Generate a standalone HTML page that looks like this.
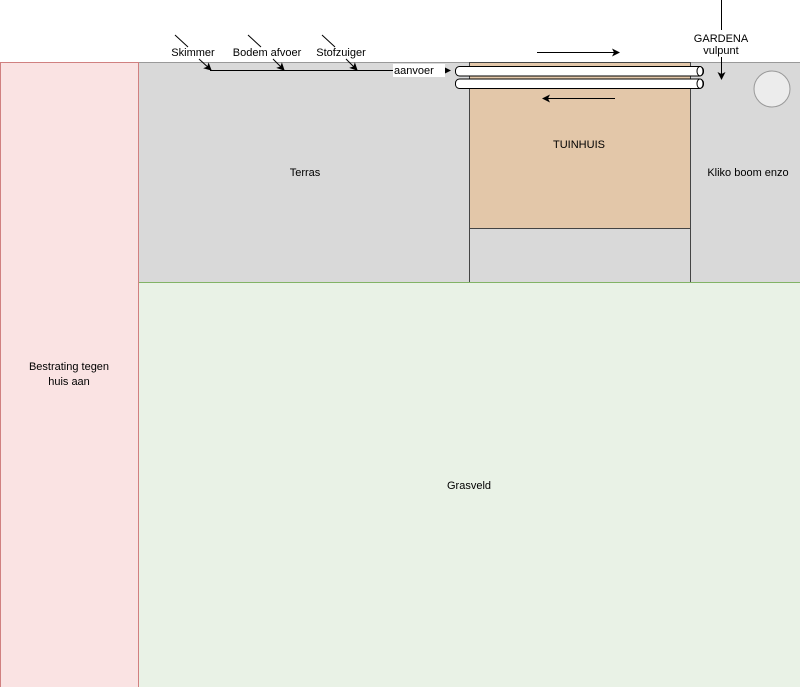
<!DOCTYPE html>
<html><head><style>html,body{margin:0;padding:0;background:#fff;}svg{display:block;}</style></head>
<body>
<svg width="800" height="687" viewBox="0 0 800 687" xmlns="http://www.w3.org/2000/svg" font-family="Liberation Sans, sans-serif" font-size="11">
<defs>
<marker id="a" markerWidth="8" markerHeight="8" refX="7" refY="4" orient="auto" markerUnits="userSpaceOnUse"><path d="M0,0 L8,4 L0,8 L2,4 z" fill="#000"/></marker>
</defs>
<rect x="138.5" y="62.5" width="662" height="220" fill="#d9d9d9" stroke="#999"/>
<rect x="138.5" y="282.5" width="662" height="405" fill="#e9f2e6" stroke="#82b366"/>
<rect x="0.5" y="62.5" width="138" height="625" fill="#fae3e3" stroke="#d08080"/>
<rect x="469.5" y="62.5" width="221" height="166" fill="#e3c7a9" stroke="#444"/>
<line x1="469.5" y1="228" x2="469.5" y2="282" stroke="#444"/>
<line x1="690.5" y1="228" x2="690.5" y2="282" stroke="#444"/>
<circle cx="772" cy="89" r="18" fill="#ececec" stroke="#999"/>
<text x="305" y="176" text-anchor="middle">Terras</text>
<text x="579" y="148" text-anchor="middle">TUINHUIS</text>
<text x="748" y="176" text-anchor="middle">Kliko boom enzo</text>
<text x="469" y="489" text-anchor="middle">Grasveld</text>
<text x="69" y="370" text-anchor="middle">Bestrating tegen</text>
<text x="69" y="385" text-anchor="middle">huis aan</text>
<!-- pipes -->
<rect x="455.5" y="66.5" width="248" height="9.5" rx="4" fill="#fff" stroke="#000"/>
<rect x="455.5" y="79" width="248" height="9.5" rx="4" fill="#fff" stroke="#000"/>
<ellipse cx="700" cy="71.2" rx="3" ry="4.7" fill="#fff" stroke="#000"/>
<ellipse cx="700" cy="83.7" rx="3" ry="4.7" fill="#fff" stroke="#000"/>
<!-- aanvoer line -->
<line x1="210" y1="70.5" x2="450" y2="70.5" stroke="#000" marker-end="url(#a)"/>
<rect x="393" y="64" width="52" height="13" fill="#fff"/>
<text x="394" y="74">aanvoer</text>
<line x1="175" y1="35" x2="188" y2="47" stroke="#000"/>
<line x1="248" y1="35" x2="261" y2="47" stroke="#000"/>
<line x1="322" y1="35" x2="335" y2="47" stroke="#000"/>
<text x="193" y="56" text-anchor="middle">Skimmer</text>
<text x="267" y="56" text-anchor="middle">Bodem afvoer</text>
<text x="341" y="56" text-anchor="middle">Stofzuiger</text>
<line x1="199" y1="59" x2="211" y2="70" stroke="#000" marker-end="url(#a)"/>
<line x1="273" y1="59" x2="284" y2="70" stroke="#000" marker-end="url(#a)"/>
<line x1="346" y1="59" x2="357" y2="70" stroke="#000" marker-end="url(#a)"/>
<!-- direction arrows -->
<line x1="537" y1="52.5" x2="619" y2="52.5" stroke="#000" marker-end="url(#a)"/>
<line x1="615" y1="98.5" x2="543" y2="98.5" stroke="#000" marker-end="url(#a)"/>
<!-- gardena -->
<line x1="721.5" y1="0" x2="721.5" y2="30" stroke="#000"/>
<text x="721" y="42" text-anchor="middle">GARDENA</text>
<text x="721" y="54" text-anchor="middle">vulpunt</text>
<line x1="721.5" y1="57" x2="721.5" y2="79" stroke="#000" marker-end="url(#a)"/>
</svg>
</body></html>
